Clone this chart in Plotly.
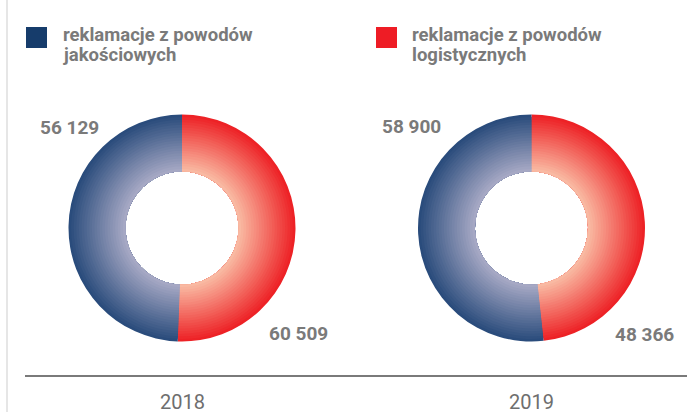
import plotly.graph_objects as go

years = ["2018", "2019"]
# value labels printed on the chart
value_text_quality = ["56 129", "58 900"]      # reklamacje z powodów jakościowych
value_text_logistic = ["60 509", "48 366"]     # reklamacje z powodów logistycznych
# slice shares (%) as drawn in the picture
share_logistic = [50.6, 48.3]
share_quality = [49.4, 51.7]
legend_line1 = ["reklamacje z powodów", "reklamacje z powodów"]
legend_line2 = ["jakościowych", "logistycznych"]

W, H = 687, 416
centers = [(182, 228), (531.5, 228)]
R_OUT, R_IN = 113.5, 56.5
N = 22

blue_out, blue_in = (0x2a, 0x4c, 0x7c), (0xa6, 0xa8, 0xc4)
red_out, red_in = (0xed, 0x22, 0x26), (0xf9, 0xb9, 0xa2)


def mix(a, b, t):
    return "rgb(%d,%d,%d)" % tuple(round(a[i] + (b[i] - a[i]) * t) for i in range(3))


fig = go.Figure()
for i, (cx, cy) in enumerate(centers):
    for k in range(N):
        r = R_OUT - k * (R_OUT - R_IN) / N
        t = k / (N - 1)
        dx, dy = r / W, r / H
        py = 1 - cy / H
        fig.add_trace(go.Pie(
            values=[share_logistic[i], share_quality[i]],
            labels=["logistyczne", "jakościowe"],
            sort=False, direction="clockwise", rotation=0,
            hole=R_IN / r,
            marker=dict(colors=[mix(red_out, red_in, t), mix(blue_out, blue_in, t)],
                        line=dict(width=0)),
            textinfo="none", hoverinfo="skip", showlegend=False,
            domain=dict(x=[cx / W - dx, cx / W + dx], y=[py - dy, py + dy]),
        ))

shapes = [
    dict(type="line", xref="paper", yref="paper", x0=7 / W, x1=7 / W, y0=1, y1=1 - 412 / H,
         line=dict(color="#e6e6e6", width=2)),
    dict(type="line", xref="paper", yref="paper", x0=25 / W, x1=1, y0=1 - 376 / H, y1=1 - 376 / H,
         line=dict(color="#7a7a7a", width=2)),
    dict(type="rect", xref="paper", yref="paper", x0=26 / W, x1=47 / W, y0=1 - 48 / H, y1=1 - 27 / H,
         fillcolor="#163c6b", line=dict(width=0)),
    dict(type="rect", xref="paper", yref="paper", x0=376 / W, x1=397 / W, y0=1 - 48 / H, y1=1 - 27 / H,
         fillcolor="#ee1c25", line=dict(width=0)),
]

ann = []
grey = "#7a7a7a"
for j, x in enumerate([61, 410]):
    for txt, y in ((legend_line1[j], 35), (legend_line2[j], 55)):
        ann.append(dict(text=txt, x=x / W, y=1 - y / H, xref="paper", yref="paper",
                        xanchor="left", yanchor="middle", align="left", showarrow=False,
                        font=dict(family="Roboto", size=18.5, color=grey, weight="bold")))
q_pos = [(38, 127), (380, 126)]
l_pos = [(330, 333), (676, 334)]
for i in range(2):
    ann.append(dict(text=value_text_quality[i], x=q_pos[i][0] / W, y=1 - q_pos[i][1] / H,
                    xref="paper", yref="paper", xanchor="left", yanchor="middle", showarrow=False,
                    font=dict(family="Roboto", size=19, color=grey, weight="bold")))
    ann.append(dict(text=value_text_logistic[i], x=l_pos[i][0] / W, y=1 - l_pos[i][1] / H,
                    xref="paper", yref="paper", xanchor="right", yanchor="middle", showarrow=False,
                    font=dict(family="Roboto", size=19, color=grey, weight="bold")))
    ann.append(dict(text=years[i], x=centers[i][0] / W, y=1 - 402 / H,
                    xref="paper", yref="paper", xanchor="center", yanchor="middle", showarrow=False,
                    font=dict(family="Roboto", size=20, color="#6e6e6e")))

fig.update_layout(width=W, height=H, margin=dict(l=0, r=0, t=0, b=0),
                  paper_bgcolor="white", plot_bgcolor="white",
                  shapes=shapes, annotations=ann, showlegend=False)
fig.write_html("out.html", config={"displayModeBar": False},
               post_script="document.body.style.margin='0';")
